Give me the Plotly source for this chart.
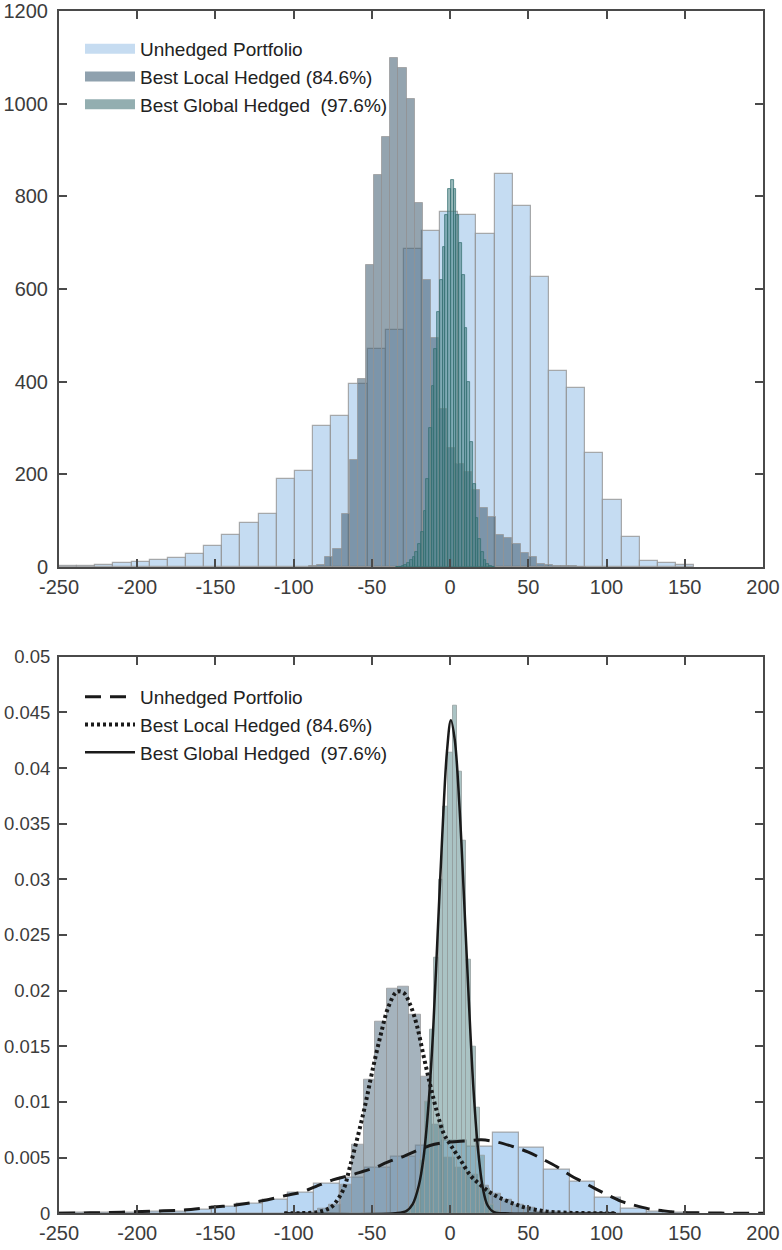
import numpy as np
import plotly.graph_objects as go

# ---------------- DATA ----------------
# Top panel: counts
unh_top_start, unh_top_width = -250.0, 11.6
unh_top_counts = [2, 2, 4, 9, 10, 16, 20, 27, 45, 68, 95, 114, 190, 207, 304, 326, 394,
                  471, 511, 686, 726, 767, 760, 718, 848, 779, 626, 423, 387, 245, 145,
                  65, 14, 9, 5]

loc_top_start, loc_top_width = -90.2, 5.2
loc_top_counts = [2, 4, 22, 38, 115, 230, 405, 652, 847, 929, 1099, 1076, 1010, 785,
                  619, 495, 340, 256, 223, 205, 166, 128, 108, 70, 62, 50, 31, 21, 6, 5,
                  3, 2, 2, 1]

glo_top_start, glo_top_width = -34.5, 1.75
glo_top_counts = [1, 1, 2, 5, 9, 15, 22, 33, 50, 75, 120, 190, 300, 390, 470, 550, 620,
                  690, 760, 815, 835, 815, 760, 700, 630, 515, 400, 270, 180, 105, 60,
                  32, 16, 7, 3, 1]

# Bottom panel: pdf-normalised histograms
unh_bot_start, unh_bot_width = -250.5, 16.35
unh_bot_pdf = [0.00002, 0.00003, 0.00006, 0.0001, 0.00016, 0.0003, 0.0006, 0.00084,
               0.00125, 0.00185, 0.0027, 0.0032, 0.0041, 0.0051, 0.0061, 0.0065,
               0.0060, 0.0072, 0.0059, 0.0039, 0.0028, 0.0014, 0.0004, 0.00013, 0.00005]

loc_bot_start, loc_bot_width = -99.0, 7.3
loc_bot_pdf = [0.00002, 0.00005, 0.0004, 0.00075, 0.0026, 0.0062, 0.0120, 0.0172, 0.0202,
               0.0204, 0.0178, 0.0123, 0.0080, 0.0050, 0.0041, 0.0035, 0.0025, 0.0018,
               0.0012, 0.0008, 0.0005, 0.00015, 0.0001, 0.00005, 0.00003, 0.00002, 0.00001,
               0.00001]

glo_bot_start, glo_bot_width = -30.85, 2.95
glo_bot_pdf = [0.0001, 0.0003, 0.0008, 0.0020, 0.0048, 0.0100, 0.0165, 0.0230, 0.0300,
               0.0365, 0.0414, 0.0456, 0.0397, 0.0335, 0.0228, 0.0150, 0.0095, 0.0052,
               0.0022, 0.0008, 0.0002]

# Fitted density curves
unh_fit_x = [-250, -230, -210, -190, -170, -155, -137, -121, -105, -95, -86, -75, -64, -55,
             -48, -40, -30, -20, -10, 0, 10, 20, 30, 40, 50, 60, 68, 77, 85, 93, 100, 109,
             117, 127, 135, 145, 160, 180, 200]
unh_fit_y = [0.00001, 0.00004, 0.0001, 0.0002, 0.0003, 0.0005, 0.00075, 0.0011, 0.0016,
             0.0019, 0.0024, 0.0030, 0.0034, 0.0038, 0.0041, 0.0046, 0.0051, 0.0057, 0.0062,
             0.0064, 0.0065, 0.0066, 0.0064, 0.0060, 0.0055, 0.0048, 0.0042, 0.0034, 0.0028,
             0.0022, 0.0017, 0.0011, 0.00075, 0.0004, 0.00025, 0.0001, 0.00004, 0.00001, 0.0]

loc_fit_x = [-106, -95, -85, -78, -74.5, -68, -64, -58.5, -54, -50, -44.6, -39.3, -34, -29.7,
             -25.4, -21.1, -16.9, -12.7, -8.4, -4.2, 0, 6.6, 13, 19, 25.3, 31.6, 40, 48.6,
             61.4, 75, 90, 106]
loc_fit_y = [0.0, 0.00002, 0.0001, 0.0004, 0.00075, 0.0022, 0.0042, 0.0072, 0.0099, 0.0126,
             0.0159, 0.0186, 0.0199, 0.0198, 0.0187, 0.0168, 0.0141, 0.0115, 0.0091, 0.0072,
             0.0062, 0.0048, 0.0034, 0.0026, 0.0019, 0.0014, 0.0009, 0.0005, 0.00017,
             0.00005, 0.00001, 0.0]

glo_fit_x = [-106, -35, -28, -24, -20, -17, -14, -11, -8, -5, -2, 0.5, 3, 6, 9, 12, 15, 18,
             21, 24, 28, 35, 106]
glo_fit_y = [0.0, 0.0, 0.0002, 0.0008, 0.0025, 0.0050, 0.0094, 0.0160, 0.0250, 0.0340,
             0.0415, 0.0443, 0.0425, 0.0365, 0.0280, 0.0190, 0.0110, 0.0055, 0.0022, 0.0007,
             0.0001, 0.0, 0.0]

x_ticks = [-250, -200, -150, -100, -50, 0, 50, 100, 150, 200]
x_ticktext = ["-250", "-200", "-150", "-100", "-50", "0", "50", "100", "150", "200"]
y_top_ticks = [0, 200, 400, 600, 800, 1000, 1200]
y_top_ticktext = ["0", "200", "400", "600", "800", "1000", "1200"]
y_bot_ticks = [0, 0.005, 0.01, 0.015, 0.02, 0.025, 0.03, 0.035, 0.04, 0.045, 0.05]
y_bot_ticktext = ["0", "0.005", "0.01", "0.015", "0.02", "0.025", "0.03", "0.035", "0.04",
                  "0.045", "0.05"]

names = ["Unhedged Portfolio", "Best Local Hedged (84.6%)", "Best Global Hedged  (97.6%)"]

# ---------------- FIGURE ----------------
FONT = "Liberation Sans, Arial, Helvetica, sans-serif"
W, H = 782, 1250


def centers(start, width, n):
    return start + width * (np.arange(n) + 0.5)


fig = go.Figure()

# colours
unh_fill = "rgba(150,192,232,0.55)"
unh_line = "rgba(150,150,150,0.8)"
loc_fill = "rgba(70,98,118,0.58)"
loc_line = "rgba(150,150,150,0.7)"
glo_fill = "rgba(70,128,130,0.55)"
glo_line = "rgba(50,110,112,0.9)"
legend_swatch = ["#c6dcf1", "#8fa1ae", "#93aeb0"]

# top panel
fig.add_trace(go.Bar(x=centers(unh_top_start, unh_top_width, len(unh_top_counts)),
                     y=unh_top_counts, width=unh_top_width, showlegend=False,
                     marker=dict(color=unh_fill, line=dict(color=unh_line, width=1.2)),
                     xaxis="x", yaxis="y"))
fig.add_trace(go.Bar(x=centers(loc_top_start, loc_top_width, len(loc_top_counts)),
                     y=loc_top_counts, width=loc_top_width, showlegend=False,
                     marker=dict(color=loc_fill, line=dict(color=loc_line, width=1)),
                     xaxis="x", yaxis="y"))
fig.add_trace(go.Bar(x=centers(glo_top_start, glo_top_width, len(glo_top_counts)),
                     y=glo_top_counts, width=glo_top_width, showlegend=False,
                     marker=dict(color=glo_fill, line=dict(color=glo_line, width=0.8)),
                     xaxis="x", yaxis="y"))
# legend entries for the top panel (thick line swatches)
for nm, col in zip(names, legend_swatch):
    fig.add_trace(go.Scatter(x=[None], y=[None], mode="lines", name=nm,
                             line=dict(color=col, width=18),
                             xaxis="x", yaxis="y", legend="legend"))

# bottom panel histograms
fig.add_trace(go.Bar(x=centers(unh_bot_start, unh_bot_width, len(unh_bot_pdf)),
                     y=unh_bot_pdf, width=unh_bot_width, showlegend=False,
                     marker=dict(color="rgba(140,188,235,0.6)", line=dict(color=unh_line, width=1.2)),
                     xaxis="x2", yaxis="y2"))
fig.add_trace(go.Bar(x=centers(loc_bot_start, loc_bot_width, len(loc_bot_pdf)),
                     y=loc_bot_pdf, width=loc_bot_width, showlegend=False,
                     marker=dict(color="rgba(105,128,145,0.6)", line=dict(color=loc_line, width=1)),
                     xaxis="x2", yaxis="y2"))
fig.add_trace(go.Bar(x=centers(glo_bot_start, glo_bot_width, len(glo_bot_pdf)),
                     y=glo_bot_pdf, width=glo_bot_width, showlegend=False,
                     marker=dict(color="rgba(100,145,148,0.55)", line=dict(color="rgba(150,160,160,0.8)", width=1)),
                     xaxis="x2", yaxis="y2"))

# bottom panel curves
fig.add_trace(go.Scatter(x=unh_fit_x, y=unh_fit_y, mode="lines", name=names[0],
                         line=dict(color="#1a1a1a", width=3, dash="16px,9px", shape="spline"),
                         xaxis="x2", yaxis="y2", legend="legend2"))
fig.add_trace(go.Scatter(x=loc_fit_x, y=loc_fit_y, mode="lines", name=names[1],
                         line=dict(color="#1a1a1a", width=4, dash="3px,3px", shape="spline"),
                         xaxis="x2", yaxis="y2", legend="legend2"))
fig.add_trace(go.Scatter(x=glo_fit_x, y=glo_fit_y, mode="lines", name=names[2],
                         line=dict(color="#1a1a1a", width=2.5, shape="spline"),
                         xaxis="x2", yaxis="y2", legend="legend2"))

x0, x1 = 59 / W, 763 / W
axis_common = dict(showline=True, linecolor="#4a4a4a", linewidth=2, mirror="ticks",
                   ticks="inside", ticklen=8, tickwidth=1.5, tickcolor="#4a4a4a",
                   showgrid=False, zeroline=False, automargin=False)
tick_font = dict(family=FONT, size=20, color="#3c3c3c")
tick_font_small = dict(family=FONT, size=18.5, color="#3c3c3c")

fig.update_layout(
    template="none",
    width=W, height=H, paper_bgcolor="white", plot_bgcolor="white",
    margin=dict(l=0, r=0, t=0, b=0, pad=0),
    barmode="overlay", bargap=0,
    font=dict(family=FONT, size=19, color="#222"),
    xaxis=dict(domain=[x0, x1], range=[-250, 200], tickvals=x_ticks, ticktext=x_ticktext,
               anchor="y", ticklabelstandoff=1, tickfont=tick_font, **axis_common),
    yaxis=dict(domain=[1 - 567 / H, 1 - 11 / H], range=[0, 1200], tickvals=y_top_ticks,
               ticktext=y_top_ticktext, anchor="x", ticklabelstandoff=5, tickfont=tick_font,
               **axis_common),
    xaxis2=dict(domain=[x0, x1], range=[-250, 200], tickvals=x_ticks, ticktext=x_ticktext,
                anchor="y2", ticklabelstandoff=1, tickfont=tick_font, **axis_common),
    yaxis2=dict(domain=[1 - 1213.3 / H, 1 - 656.7 / H], range=[0, 0.05], tickvals=y_bot_ticks,
                ticktext=y_bot_ticktext, anchor="x2", ticklabelstandoff=3,
                tickfont=tick_font_small, **axis_common),
    legend=dict(x=80 / W, y=1 - 30 / H, xanchor="left", yanchor="top", bgcolor="rgba(0,0,0,0)",
                font=dict(family=FONT, size=19, color="#222"), itemwidth=50,
                tracegroupgap=0, traceorder="normal"),
    legend2=dict(x=80 / W, y=1 - 678 / H, xanchor="left", yanchor="top", bgcolor="rgba(0,0,0,0)",
                 font=dict(family=FONT, size=19, color="#222"), itemwidth=50,
                 tracegroupgap=0, traceorder="normal"),
)

fig.write_html("out.html")
